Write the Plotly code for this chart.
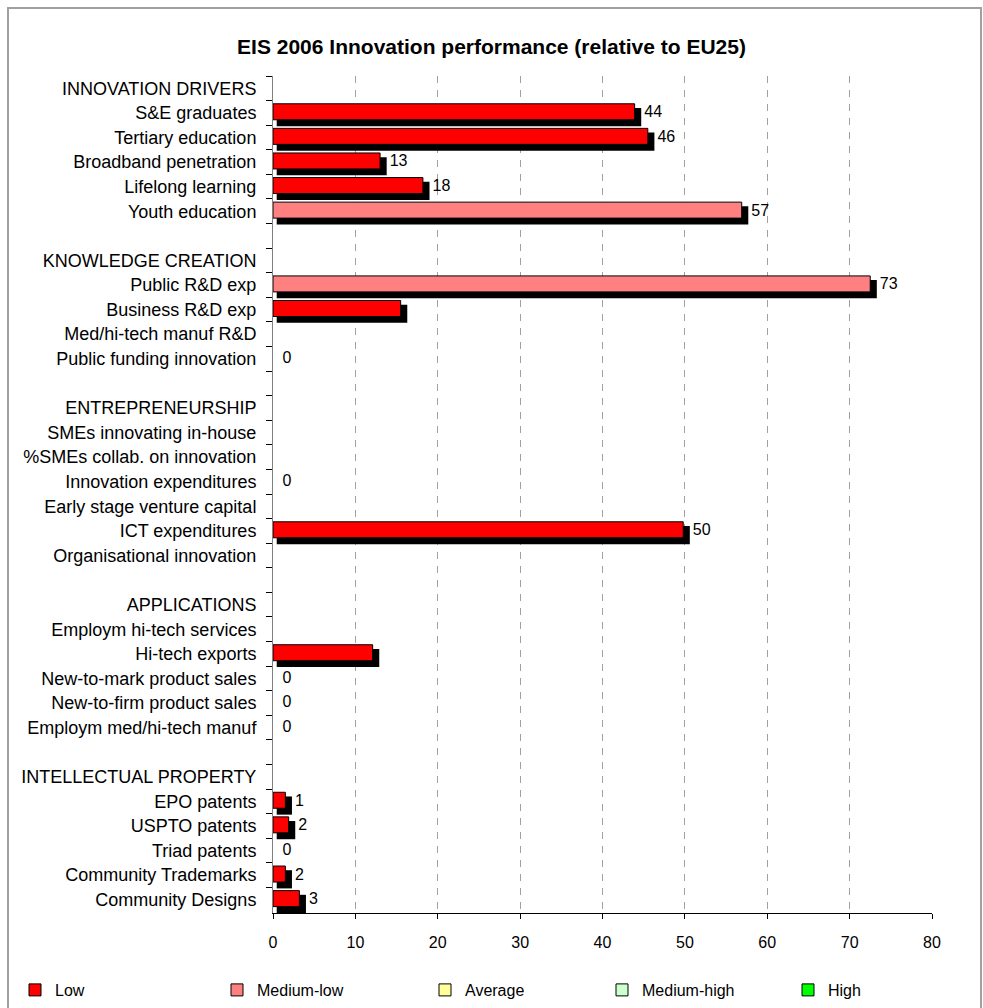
import plotly.graph_objects as go

# ---------------- data ----------------
categories = [
    "INNOVATION DRIVERS", "S&E graduates", "Tertiary education", "Broadband penetration",
    "Lifelong learning", "Youth education", " ",
    "KNOWLEDGE CREATION", "Public R&D exp", "Business R&D exp", "Med/hi-tech manuf R&D",
    "Public funding innovation", "  ",
    "ENTREPRENEURSHIP", "SMEs innovating in-house", "%SMEs collab. on innovation",
    "Innovation expenditures", "Early stage venture capital", "ICT expenditures",
    "Organisational innovation", "   ",
    "APPLICATIONS", "Employm hi-tech services", "Hi-tech exports", "New-to-mark product sales",
    "New-to-firm product sales", "Employm med/hi-tech manuf", "    ",
    "INTELLECTUAL PROPERTY", "EPO patents", "USPTO patents", "Triad patents",
    "Community Trademarks", "Community Designs",
]
values = [
    None, 43.9, 45.5, 13.0, 18.2, 56.9, None,
    None, 72.5, 15.5, None, 0, None,
    None, None, None, 0, None, 49.8, None, None,
    None, None, 12.1, 0, 0, 0, None,
    None, 1.5, 1.9, 0, 1.5, 3.2,
]
levels = [
    None, "Low", "Low", "Low", "Low", "Medium-low", None,
    None, "Medium-low", "Low", None, None, None,
    None, None, None, None, None, "Low", None, None,
    None, None, "Low", None, None, None, None,
    None, "Low", "Low", None, "Low", "Low",
]
labels = [
    "", "44", "46", "13", "18", "57", "",
    "", "73", "", "", "0", "",
    "", "", "", "0", "", "50", "", "",
    "", "", "", "0", "0", "0", "",
    "", "1", "2", "0", "2", "3",
]
level_names = ["Low", "Medium-low", "Average", "Medium-high", "High"]
level_colors = ["#FF0000", "#FF8080", "#FFFF99", "#CCFFCC", "#00FF00"]

# ---------------- layout constants ----------------
W, H = 983, 1008
L, R, T, B = 273, 51, 76, 95
PW, PH = W - L - R, H - T - B
FONT = "Liberation Sans, Arial, sans-serif"
legend_px = [15, 217, 425, 602, 788]


def px_x(px):
    return (px - L) / PW


def px_y(py):
    return (H - B - py) / PH


fig = go.Figure()

# shadow bars (drawn first, underneath)
shadow_base = 0.45
shadow_extra = 0.35
shadow_x = [None if v is None else v + shadow_extra for v in values]
shadow_col = ["rgba(0,0,0,0)" if (v is None or v == 0) else "#000000" for v in values]
fig.add_trace(go.Bar(
    y=categories, x=shadow_x, base=shadow_base, orientation="h",
    marker=dict(color=shadow_col, line=dict(width=0)),
    offset=-0.2, width=0.74, showlegend=False, hoverinfo="skip",
))

legend_layout = {}
for i, (name, col) in enumerate(zip(level_names, level_colors)):
    xs = [v if (lv == name and v) else None for v, lv in zip(values, levels)]
    lname = "legend" if i == 0 else f"legend{i + 1}"
    fig.add_trace(go.Bar(
        y=categories, x=xs, orientation="h", name=name,
        marker=dict(color=col, line=dict(color="#000000", width=1)),
        offset=-0.37, width=0.65, legend=lname,
    ))
    legend_layout[lname] = dict(
        orientation="h",
        x=legend_px[i] / W, xref="container", xanchor="left",
        y=1 - 990 / H, yref="container", yanchor="middle",
        font=dict(family=FONT, size=16, color="#000000"),
        bgcolor="rgba(0,0,0,0)", itemwidth=30,
    )

# invisible carrier for the value labels (ends where the shadow ends)
label_x = [None if v is None else v + shadow_base + shadow_extra for v in values]
fig.add_trace(go.Bar(
    y=categories, x=label_x, orientation="h",
    marker=dict(color="rgba(0,0,0,0)", line=dict(width=0)),
    text=labels, textposition="outside", cliponaxis=False, constraintext="none",
    textfont=dict(family=FONT, size=16, color="#000000"),
    offset=-0.37, width=0.65, showlegend=False, hoverinfo="skip",
))

fig.update_layout(
    width=W, height=H,
    margin=dict(l=L, r=R, t=T, b=B),
    barmode="overlay",
    paper_bgcolor="#FFFFFF", plot_bgcolor="#FFFFFF",
    font=dict(family=FONT, size=16, color="#000000"),
    title=dict(
        text="<b>EIS 2006 Innovation performance (relative to EU25)</b>",
        x=0.5, xref="container", xanchor="center",
        y=1 - 47 / H, yref="container", yanchor="middle",
        font=dict(family=FONT, size=21, color="#000000"),
    ),
    xaxis=dict(
        range=[0, 80], dtick=10, tick0=0,
        showgrid=True, gridcolor="#A0A0A0", griddash="7px,7px", gridwidth=1,
        zeroline=False, showline=True, linecolor="#000000", linewidth=1,
        ticks="outside", ticklen=5, tickcolor="#000000",
        tickfont=dict(family=FONT, size=16, color="#000000"),
        ticklabelstandoff=10,
    ),
    yaxis=dict(
        type="category", categoryorder="array", categoryarray=categories,
        autorange="reversed", tickson="boundaries",
        ticks="outside", ticklen=6, tickcolor="#000000",
        showline=True, linecolor="#808080", linewidth=1,
        showgrid=False, zeroline=False,
        tickfont=dict(family=FONT, size=18, color="#000000"),
        ticklabelstandoff=12,
    ),
    shapes=[dict(
        type="rect", xref="paper", yref="paper",
        x0=px_x(8), x1=px_x(981), y0=px_y(1020), y1=px_y(8),
        line=dict(color="#A0A0A0", width=2), layer="below",
    )],
    showlegend=True,
    **legend_layout,
)

fig.write_html("out.html")
